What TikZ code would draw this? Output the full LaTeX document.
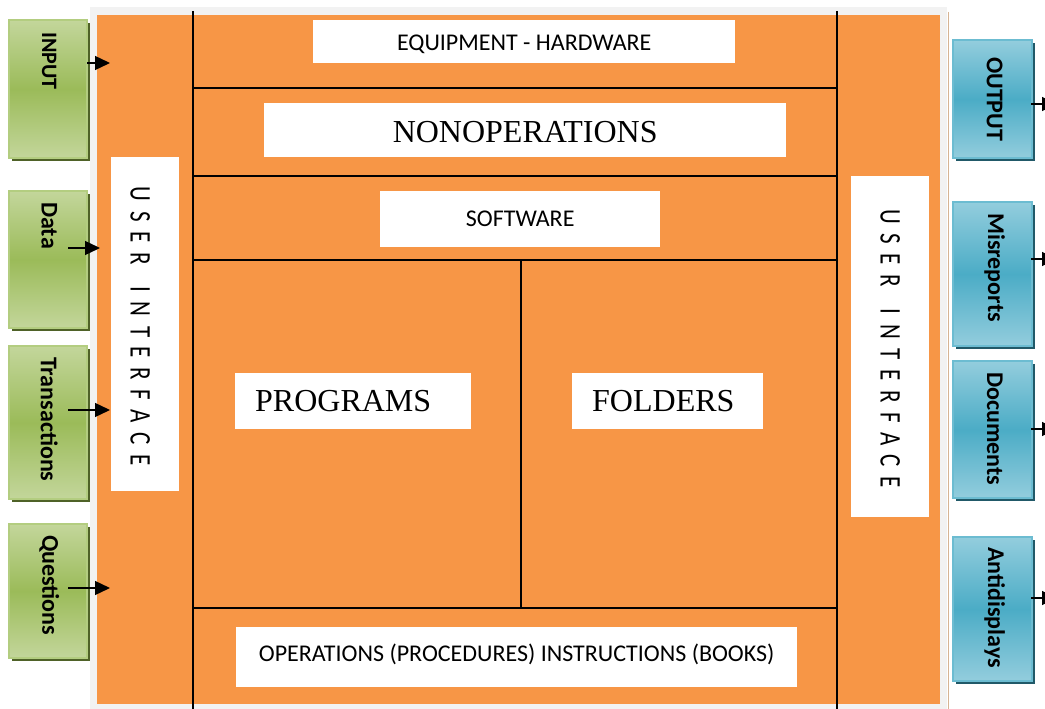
\documentclass[tikz,border=0pt]{standalone}
\usepackage{fontspec}
\setmainfont{Carlito}
\newfontfamily\serifface{Liberation Serif}
\usetikzlibrary{arrows.meta,shadows,positioning}

\definecolor{panelorange}{HTML}{F79646}
\definecolor{panelgray}{HTML}{F2F2F2}
\definecolor{paneltan}{HTML}{D6B494}
\definecolor{greenlight}{HTML}{C3D69B}
\definecolor{greenmid}{HTML}{9BBB59}
\definecolor{greenedge}{HTML}{B3CD80}
\definecolor{greendark}{HTML}{4F6228}
\definecolor{bluelight}{HTML}{93CDDD}
\definecolor{bluemid}{HTML}{4BACC6}
\definecolor{blueedge}{HTML}{6CBCD1}
\definecolor{bluedark}{HTML}{215968}

\begin{document}
\begin{tikzpicture}[x=1pt, y=-1pt,
                    sectionline/.style={line width=1.6pt, black},
                    whitebox/.style={fill=white, inner sep=0pt, anchor=north west,
                                     font=\fontsize{24}{28}\selectfont},
                    bigbox/.style={whitebox, font=\serifface\fontsize{32}{36}\selectfont},
                    uitext/.style={rotate=-90, yscale=1.3, inner sep=0pt,
                                   font=\fontsize{23}{26}\selectfont},
                    inbox/.style={anchor=north west, minimum width=78pt, inner sep=0pt,
                                  line width=2.4pt, draw=greenedge,
                                  top color=greenlight, bottom color=greenlight, middle color=greenmid,
                                  drop shadow={shadow xshift=3pt, shadow yshift=-3pt, fill=greendark, opacity=1}},
                    outbox/.style={inbox, minimum width=79pt, draw=blueedge,
                                   top color=bluelight, bottom color=bluelight, middle color=bluemid,
                                   drop shadow={shadow xshift=3pt, shadow yshift=-3pt, fill=bluedark, opacity=1}},
                    boxtext/.style={rotate=-90, anchor=west, inner sep=0pt,
                                    font=\bfseries\fontsize{24}{27}\selectfont},
                    arrowline/.style={line width=1.4pt, black, -{Triangle[length=15pt, width=14pt]}},
                   ]

\clip (0,0) rectangle (1045,709);
\useasboundingbox (0,0) rectangle (1045,709);

% background panel
\fill[panelgray] (90,7) rectangle (947,709);
\draw[paneltan, line width=1.5pt] (948.5,12) -- (948.5,709);
\fill[panelorange] (97,15) rectangle (940,704);

% grid of the system
\draw[sectionline] (193,11) -- (193,709);
\draw[sectionline] (837,11) -- (837,709);
\foreach \y in {88,176,260,608}
  \draw[sectionline] (193,\y) -- (837,\y);
\draw[sectionline] (521,260) -- (521,608);

% labels
\node[whitebox, minimum width=422pt, minimum height=43pt] (hardware) at (313,20)
  {\raisebox{-3pt}[\height][\depth]{EQUIPMENT - HARDWARE}};
\node[bigbox, minimum width=522pt, minimum height=54pt] (nonop) at (264,103)
  {\raisebox{-2pt}[\height][\depth]{NONOPERATIONS}};
\node[whitebox, minimum width=280pt, minimum height=56pt] (software) at (380,191) {SOFTWARE};
\node[bigbox, minimum height=56pt, inner xsep=20pt, text width=196pt, align=left] (programs) at (235,373) {PROGRAMS};
\node[bigbox, minimum height=56pt, inner xsep=20pt, text width=151pt, align=left] (folders) at (572,373) {FOLDERS};
\node[whitebox, minimum width=561pt, minimum height=60pt] (books) at (236,627)
  {\raisebox{3pt}[\height][\depth]{OPERATIONS (PROCEDURES) INSTRUCTIONS (BOOKS)}};

% user interface
\node[whitebox, minimum width=68pt, minimum height=334pt] (uileft) at (111,157) {};
\node[whitebox, minimum width=78pt, minimum height=341pt] (uiright) at (851,176) {};
\node[uitext] at ([xshift=-5pt, yshift=-2pt]uileft.center) {\spaceskip=9.5pt U S E R\hspace{22pt}I N T E R F A C E};
\node[uitext] at ([yshift=-2pt]uiright.center) {\spaceskip=9.5pt U S E R\hspace{22pt}I N T E R F A C E};

% inputs
\node[inbox, minimum height=138pt] (input) at (8,19) {};
\node[inbox, minimum height=137pt] (data) at (8,190) {};
\node[inbox, minimum height=153pt] (trans) at (8,345) {};
\node[inbox, minimum height=134pt] (quest) at (8,523) {};
\node[boxtext, font=\bfseries\fontsize{22}{25}\selectfont] at ([xshift=1pt, yshift=-13pt]input.north) {INPUT};
\node[boxtext] at ([xshift=1pt, yshift=-12pt]data.north) {Data};
\node[boxtext] at ([xshift=1pt, yshift=-12pt]trans.north) {Transactions};
\node[boxtext] at ([xshift=1pt, yshift=-12pt]quest.north) {Questions};

% outputs
\node[outbox, minimum height=118pt] (output) at (952,39) {};
\node[outbox, minimum height=144pt] (misrep) at (952,201) {};
\node[outbox, minimum height=137pt] (docs) at (952,360) {};
\node[outbox, minimum height=144pt] (anti) at (952,536) {};
\node[boxtext] at ([xshift=2pt, yshift=-18pt]output.north) {OUTPUT};
\node[boxtext] at ([xshift=2pt, yshift=-12pt]misrep.north) {Misreports};
\node[boxtext] at ([xshift=2pt, yshift=-12pt]docs.north) {Documents};
\node[boxtext] at ([xshift=2pt, yshift=-11pt]anti.north) {Antidisplays};

% arrows
\coordinate (inputa) at (87,63);   \coordinate (inputb) at (110,63);
\coordinate (dataa) at (68,248);   \coordinate (datab) at (100,248);
\coordinate (transa) at (68,410);  \coordinate (transb) at (110,410);
\coordinate (questa) at (68,588);  \coordinate (questb) at (110,588);
\foreach \n in {input,data,trans,quest}
  \draw[arrowline] (\n a) -- (\n b);

\coordinate (outputa) at (1031,104); \coordinate (outputb) at (1057,104);
\coordinate (misrepa) at (1031,259); \coordinate (misrepb) at (1057,259);
\coordinate (docsa) at (1031,429);   \coordinate (docsb) at (1057,429);
\coordinate (antia) at (1031,598);   \coordinate (antib) at (1057,598);
\foreach \n in {output,misrep,docs,anti}
  \draw[arrowline] (\n a) -- (\n b);

\end{tikzpicture}
\end{document}
